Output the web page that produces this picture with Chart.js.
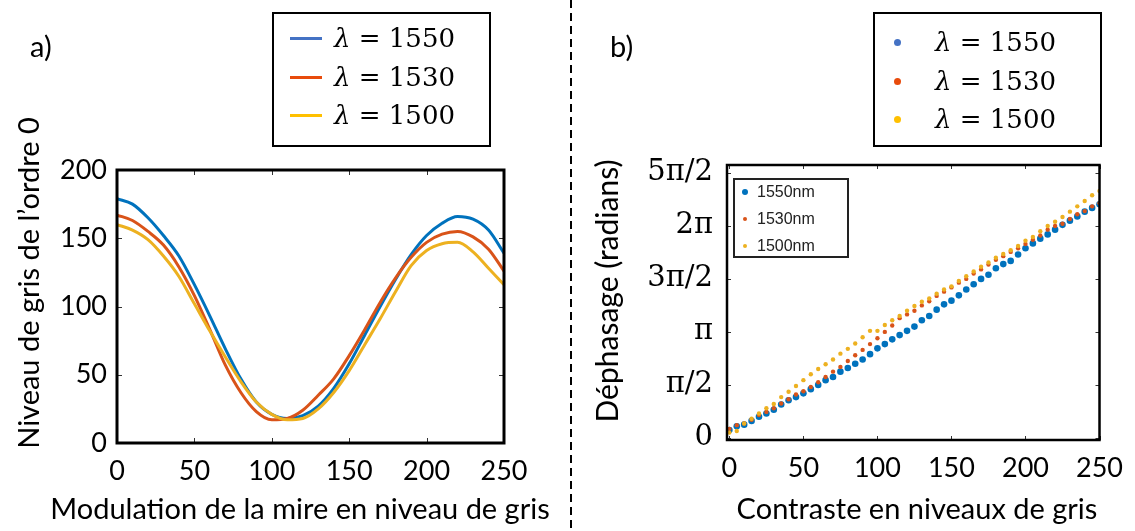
<!DOCTYPE html>
<html>
<head>
<meta charset="utf-8">
<script src="https://cdn.jsdelivr.net/npm/chart.js@4.4.0/dist/chart.umd.min.js"></script>
<style>
  html, body { margin:0; padding:0; background:#fff; }
  body { width:1135px; height:531px; overflow:hidden; position:relative; font-family:Lato, sans-serif; }
  canvas { position:absolute; top:0; }
  #cA { left:0; }
  #cB { left:575px; }
  .tag { position:absolute; font-family:Lato, sans-serif; font-size:29px; line-height:35px; color:#000; }
  .atitle { position:absolute; font-family:Lato, sans-serif; font-size:29px; line-height:35px; color:#000; white-space:nowrap; transform:translate(-50%,-50%); }
  .atitle.v { transform:translate(-50%,-50%) rotate(-90deg); }
  .legbox { position:absolute; border:2.5px solid #000; background:#fff; box-sizing:border-box; }
  .row { position:absolute; height:40px; line-height:40px; white-space:nowrap; font-family:"DejaVu Serif", serif; font-size:26px; color:#000; }
  .row i { font-style:italic; }
  .seg { position:absolute; height:3px; }
  .dot { position:absolute; border-radius:50%; }
  .inner { position:absolute; border:2px solid #222; background:#fff; box-sizing:border-box; }
  .irow { position:absolute; font-family:"Liberation Sans", Arial, sans-serif; font-size:16px; line-height:20px; color:#222; white-space:nowrap; }
  #divider { position:absolute; left:0; top:0; }
</style>
</head>
<body>
<canvas id="cA" width="570" height="531"></canvas>
<canvas id="cB" width="560" height="531"></canvas>
<svg id="divider" width="1135" height="531"><line x1="571" y1="0" x2="571" y2="531" stroke="#000" stroke-width="2" stroke-dasharray="8,5"/></svg>
<div class="tag" style="left:30px;top:28px;">a)</div>
<div class="tag" style="left:610px;top:28px;">b)</div>
<div id="titleAX" class="atitle" style="left:300px;top:507px;"></div>
<div id="titleAY" class="atitle v" style="left:27px;top:283px;"></div>
<div id="titleBX" class="atitle" style="left:917px;top:507px;"></div>
<div id="titleBY" class="atitle v" style="left:606px;top:291px;font-size:30px;"></div>
<div id="legA" class="legbox" style="left:272px;top:12px;width:219px;height:135px;"></div>
<div id="legB" class="legbox" style="left:873px;top:12px;width:229px;height:135px;"></div>
<div id="legIn" class="inner" style="left:733px;top:178px;width:116px;height:80px;"></div>
<script>
// ---------- panel a) : grey level of order 0 vs modulation ----------
const lineX    = [0,10,20,30,40,50,60,70,80,90,100,110,120,130,140,150,160,170,180,190,200,210,220,230,240,250];
const gray1550 = [179,175,165,152,137,116,93,69,47,30,21,18,20,27,40,58,79,100,120,138,152,161,166,164,156,139];
const gray1530 = [167,163,155,145,129,108,83,57,37,23,17,18,24,35,47,64,83,103,121,136,147,153,155,151,142,126];
const gray1500 = [160,156,149,137,122,102,82,63,45,30,21,17,18,25,37,53,72,91,111,130,141,146,147,140,128,116];
const seriesLabels = ['1550','1530','1500'];
const leftXTicks = [0,50,100,150,200,250];
const leftYTicks = [0,50,100,150,200];
const leftXTitle = 'Modulation de la mire en niveau de gris';
const leftYTitle = 'Niveau de gris de l’ordre 0';

// ---------- panel b) : phase shift (in units of pi/2) vs contrast ----------
const contrastX = [0,5,10,15,20,25,30,35,40,45,50,55,60,65,70,75,80,85,90,95,100,105,110,115,120,125,130,135,140,145,150,155,160,165,170,175,180,185,190,195,200,205,210,215,220,225,230,235,240,245,250];
const phase1550 = [0.15,0.22,0.25,0.32,0.40,0.46,0.53,0.63,0.71,0.77,0.84,0.92,1.00,1.09,1.15,1.25,1.32,1.40,1.48,1.58,1.69,1.77,1.86,1.94,2.02,2.10,2.22,2.30,2.42,2.52,2.59,2.69,2.80,2.90,3.00,3.08,3.20,3.28,3.34,3.46,3.58,3.67,3.76,3.84,3.93,4.02,4.10,4.18,4.27,4.34,4.41];
const phase1530 = [0.17,0.24,0.27,0.34,0.43,0.49,0.56,0.65,0.73,0.82,0.88,0.96,1.05,1.15,1.25,1.34,1.45,1.56,1.66,1.77,1.88,2.00,2.12,2.26,2.33,2.40,2.50,2.58,2.68,2.76,2.84,2.93,3.00,3.10,3.18,3.27,3.36,3.43,3.51,3.58,3.66,3.74,3.82,3.93,4.00,4.04,4.13,4.22,4.28,4.37,4.43];
const phase1500 = [0.10,0.13,0.27,0.36,0.46,0.56,0.64,0.77,0.87,0.98,1.09,1.20,1.30,1.39,1.48,1.59,1.68,1.78,1.90,2.02,2.02,2.13,2.22,2.30,2.40,2.49,2.57,2.63,2.72,2.80,2.86,2.96,3.05,3.14,3.23,3.31,3.40,3.47,3.54,3.62,3.72,3.79,3.90,4.00,4.08,4.17,4.27,4.37,4.47,4.58,4.66];
const innerLabels = ['1550nm','1530nm','1500nm'];
const rightXTicks = [0,50,100,150,200,250];
const rightYTicks = [0,1,2,3,4,5];
const rightYTickLabels = ['0','π/2','π','3π/2','2π','5π/2'];
const rightXTitle = 'Contraste en niveaux de gris';
const rightYTitle = 'Déphasage (radians)';

// ---------- styles ----------
const plotColors = ['#0072BD','#D95319','#EDB120'];
const legendColors = ['#4472C4','#E84B0C','#FFC000'];
const sansFont = 'Lato';

const framePlugin = {
  id: 'frame',
  afterDatasetsDraw(chart, args, o) {
    const {ctx, chartArea:{left,right,top,bottom}} = chart;
    const xs = chart.scales.x, ys = chart.scales.y;
    ctx.save();
    ctx.strokeStyle = '#333'; ctx.lineWidth = 1;
    ctx.beginPath();
    o.xTicks.forEach(v => { const p = Math.round(xs.getPixelForValue(v)) + 0.5;
      ctx.moveTo(p, bottom); ctx.lineTo(p, bottom - o.len);
      ctx.moveTo(p, top); ctx.lineTo(p, top + o.len); });
    o.yTicks.forEach(v => { const p = Math.round(ys.getPixelForValue(v)) + 0.5;
      ctx.moveTo(left, p); ctx.lineTo(left + o.len, p);
      ctx.moveTo(right, p); ctx.lineTo(right - o.len, p); });
    ctx.stroke();
    ctx.strokeStyle = '#000'; ctx.lineWidth = o.border;
    ctx.strokeRect(left, top, right - left, bottom - top);
    ctx.restore();
  }
};

// ---------- chart a ----------
const mk = (xs, ys) => xs.map((x, i) => ({x, y: ys[i]}));
new Chart(document.getElementById('cA'), {
  type: 'line',
  data: { datasets: [gray1550, gray1530, gray1500].map((d, i) => ({
    label: 'λ = ' + seriesLabels[i], data: mk(lineX, d), borderColor: plotColors[i], backgroundColor: plotColors[i],
    borderWidth: 3, pointRadius: 0, cubicInterpolationMode: 'monotone', order: 3 - i, fill: false
  })) },
  options: {
    responsive: false, animation: false, devicePixelRatio: 1,
    layout: { padding: { left: 0, top: 170, right: 66, bottom: 0 } },
    plugins: { legend: { display: false }, tooltip: { enabled: false },
      frame: { xTicks: leftXTicks, yTicks: leftYTicks, len: 5, border: 3 } },
    scales: {
      x: { type: 'linear', min: 0, max: 250,
        afterBuildTicks: s => { s.ticks = leftXTicks.map(v => ({value: v})); },
        afterFit: s => { s.height = 88; },
        grid: { display: false, drawTicks: false }, border: { display: false },
        ticks: { padding: 12, color: '#000', font: { family: sansFont, size: 27 }, maxRotation: 0 },
        title: { display: false, text: leftXTitle } },
      y: { type: 'linear', min: 0, max: 200,
        afterBuildTicks: s => { s.ticks = leftYTicks.map(v => ({value: v})); },
        afterFit: s => { s.width = 117; },
        grid: { display: false, drawTicks: false }, border: { display: false },
        ticks: { padding: 10, color: '#000', font: { family: sansFont, size: 27 } },
        title: { display: false, text: leftYTitle } }
    }
  },
  plugins: [framePlugin]
});

// ---------- chart b ----------
new Chart(document.getElementById('cB'), {
  type: 'scatter',
  data: { datasets: [phase1550, phase1530, phase1500].map((d, i) => ({
    label: innerLabels[i], data: mk(contrastX, d), backgroundColor: plotColors[i], borderColor: plotColors[i],
    borderWidth: 0, pointRadius: i === 0 ? 3.3 : 2.2, order: 3 - i
  })) },
  options: {
    responsive: false, animation: false, devicePixelRatio: 1,
    layout: { padding: { left: 0, top: 165, right: 32, bottom: 0 } },
    plugins: { legend: { display: false }, tooltip: { enabled: false },
      frame: { xTicks: rightXTicks, yTicks: rightYTicks, len: 4, border: 2.5 } },
    scales: {
      x: { type: 'linear', min: -1.6, max: 250,
        afterBuildTicks: s => { s.ticks = rightXTicks.map(v => ({value: v})); },
        afterFit: s => { s.height = 91; },
        grid: { display: false, drawTicks: false }, border: { display: false },
        ticks: { padding: 12, color: '#000', font: { family: sansFont, size: 27 }, maxRotation: 0 },
        title: { display: false, text: rightXTitle } },
      y: { type: 'linear', min: -0.04, max: 5.15,
        afterBuildTicks: s => { s.ticks = rightYTicks.map(v => ({value: v})); },
        afterFit: s => { s.width = 152; },
        grid: { display: false, drawTicks: false }, border: { display: false },
        ticks: { padding: 14, color: '#000', font: { family: 'DejaVu Serif', size: 29 },
          callback: v => rightYTickLabels[rightYTicks.indexOf(v)] },
        title: { display: false, text: rightYTitle } }
    }
  },
  plugins: [framePlugin]
});

// ---------- axis titles (HTML text) ----------
document.getElementById('titleAX').textContent = leftXTitle;
document.getElementById('titleAY').textContent = leftYTitle;
document.getElementById('titleBX').textContent = rightXTitle;
document.getElementById('titleBY').textContent = rightYTitle;

// ---------- legends (HTML) ----------
const rowYA = [24, 63, 101], rowYB = [28, 67, 105];
const legA = document.getElementById('legA'), legB = document.getElementById('legB'), legIn = document.getElementById('legIn');
seriesLabels.forEach((lab, i) => {
  const seg = document.createElement('div'); seg.className = 'seg';
  Object.assign(seg.style, { left: '16px', top: (rowYA[i] - 1.5) + 'px', width: '32px', background: legendColors[i] });
  legA.appendChild(seg);
  const r = document.createElement('div'); r.className = 'row';
  Object.assign(r.style, { left: '60px', top: (rowYA[i] - 20) + 'px' });
  r.innerHTML = '<i>λ</i> = ' + lab; legA.appendChild(r);

  const d = document.createElement('div'); d.className = 'dot';
  Object.assign(d.style, { left: (22 - 3.5) + 'px', top: (rowYB[i] - 3.5) + 'px', width: '7px', height: '7px', background: legendColors[i] });
  legB.appendChild(d);
  const r2 = document.createElement('div'); r2.className = 'row';
  Object.assign(r2.style, { left: '60px', top: (rowYB[i] - 20) + 'px' });
  r2.innerHTML = '<i>λ</i> = ' + lab; legB.appendChild(r2);
});
const rowYI = [12, 39, 66];
innerLabels.forEach((lab, i) => {
  const rad = i === 0 ? 3.3 : 2.2;
  const d = document.createElement('div'); d.className = 'dot';
  Object.assign(d.style, { left: (10 - rad) + 'px', top: (rowYI[i] - rad) + 'px', width: (2*rad) + 'px', height: (2*rad) + 'px', background: plotColors[i] });
  legIn.appendChild(d);
  const t = document.createElement('div'); t.className = 'irow';
  Object.assign(t.style, { left: '22px', top: (rowYI[i] - 10) + 'px' });
  t.textContent = lab; legIn.appendChild(t);
});
</script>
</body>
</html>
